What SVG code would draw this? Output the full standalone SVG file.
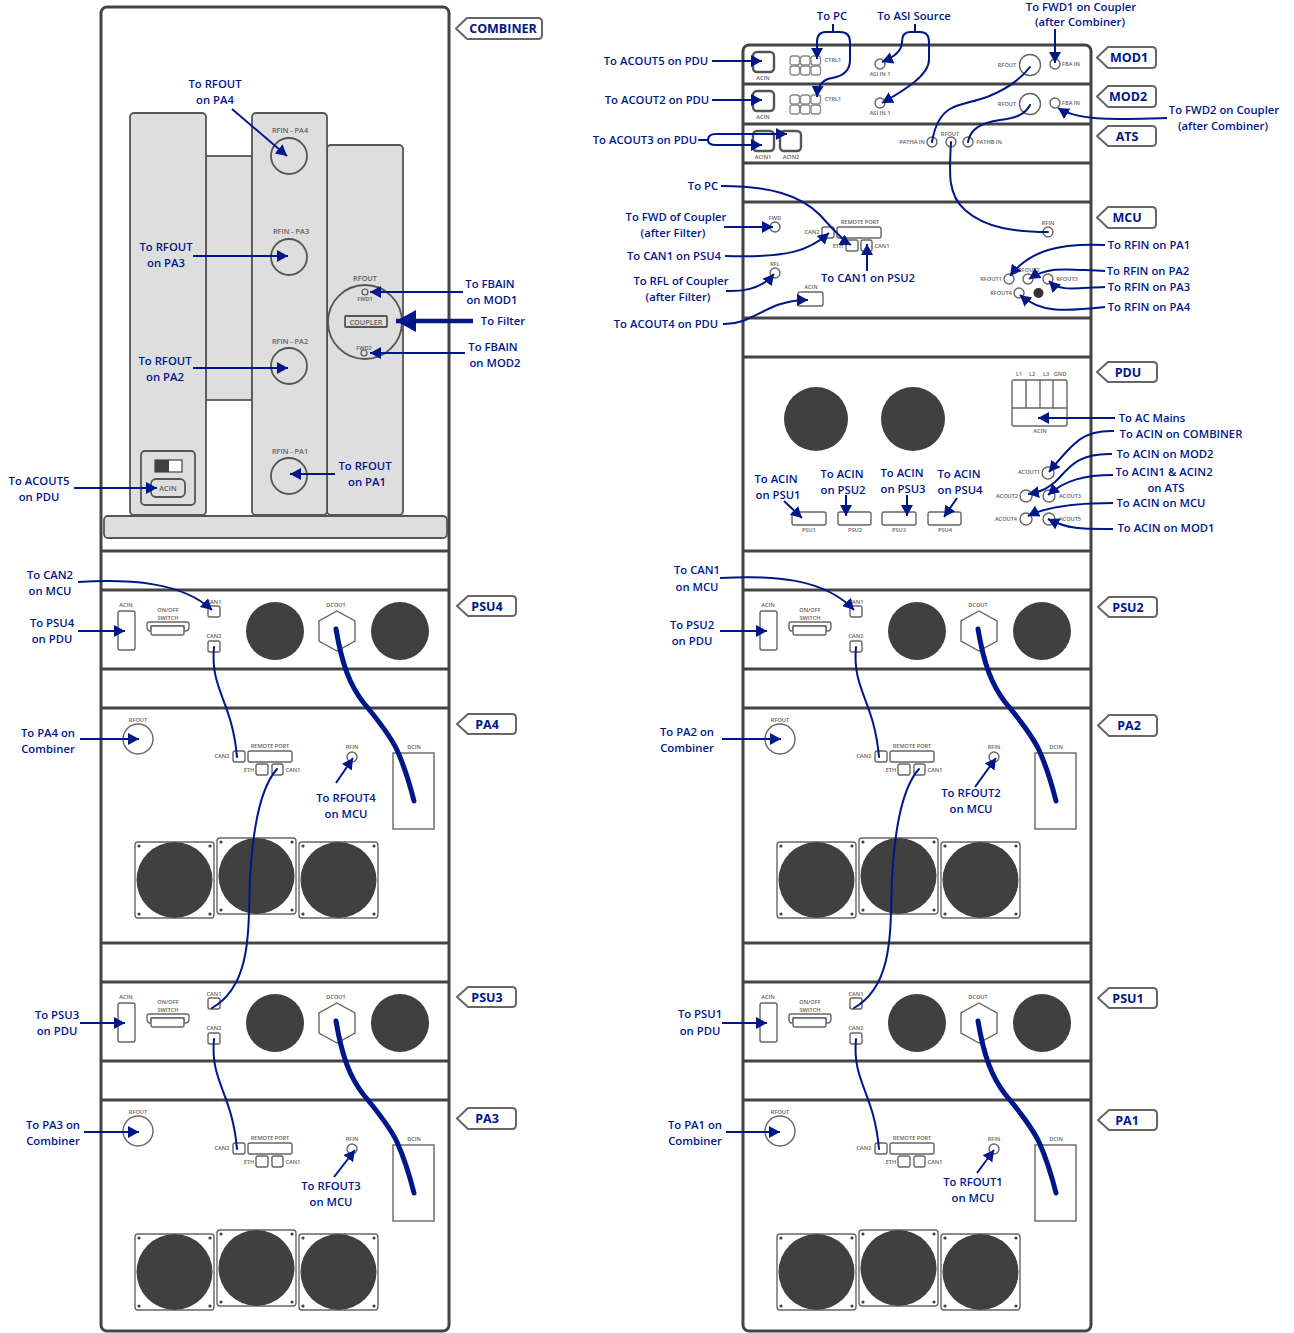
<svg xmlns="http://www.w3.org/2000/svg" xmlns:xlink="http://www.w3.org/1999/xlink" width="1294" height="1333" viewBox="0 0 1294 1333">
<style>
text{font-family:"Open Sans","Liberation Sans",sans-serif}
.l{font-size:11.300px;font-weight:600;fill:#00178a;text-anchor:middle}
.tag{font-size:12.500px;font-weight:700;fill:#00178a;text-anchor:middle}
.s{font-size:5.600px;font-weight:600;fill:#606060;text-anchor:middle}
.m{font-size:7.300px;font-weight:600;fill:#606060;text-anchor:middle}
.rack{fill:#fff;stroke:#444;stroke-width:3}
.rl{stroke:#444;stroke-width:3;fill:none}
.p{fill:#dedede;stroke:#555;stroke-width:1.800}
.o{fill:#fff;stroke:#666;stroke-width:1.400}
.ot{fill:none;stroke:#555;stroke-width:1.800}
.thick{fill:none;stroke:#555;stroke-width:2.400}
.grid{fill:#fff;stroke:#888;stroke-width:1.300}
.hole{fill:#404040}
.tg{fill:#fff;stroke:#666;stroke-width:2;stroke-linejoin:round}
.c{fill:none;stroke:#00178a;stroke-width:2;stroke-linecap:round}
.ca{fill:none;stroke:#00178a;stroke-width:2;stroke-linecap:butt;marker-end:url(#a)}
.dc{fill:none;stroke:#00178a;stroke-width:5;stroke-linecap:round}
</style>
<defs>
<marker id="a" markerUnits="userSpaceOnUse" markerWidth="13" markerHeight="13" refX="11" refY="6" orient="auto"><path d="M0 0L11 6L0 12Z" fill="#00178a"/></marker>
<marker id="b" markerUnits="userSpaceOnUse" markerWidth="22" markerHeight="24" refX="20" refY="11" orient="auto"><path d="M0 0L20 11L0 22Z" fill="#00178a"/></marker>
<g id="fan">
<rect class="o" x="0" y="0" width="79" height="76" rx="3"/>
<circle class="hole" cx="39.500" cy="38" r="38"/>
<circle class="hole" cx="4" cy="4" r="1.600"/><circle class="hole" cx="75" cy="4" r="1.600"/><circle class="hole" cx="4" cy="72" r="1.600"/><circle class="hole" cx="75" cy="72" r="1.600"/>
</g>
<g id="ctrl">
<rect class="grid" x="0" y="0" width="9.500" height="9" rx="2.500"/><rect class="grid" x="10.500" y="0" width="9.500" height="9" rx="2.500"/><rect class="grid" x="21" y="0" width="9.500" height="9" rx="2.500"/>
<rect class="grid" x="0" y="10" width="9.500" height="9" rx="2.500"/><rect class="grid" x="10.500" y="10" width="9.500" height="9" rx="2.500"/><rect class="grid" x="21" y="10" width="9.500" height="9" rx="2.500"/>
</g>
</defs>
<rect width="1294" height="1333" fill="#fff"/>

<g id="rack-left">
<rect class="rack" x="101" y="7" width="348" height="1324" rx="6"/>
<path class="rl" d="M101 551H449M101 590H449M101 669H449M101 708H449M101 943H449M101 982H449M101 1061H449M101 1100H449"/>
</g>
<g id="rack-right">
<rect class="rack" x="743" y="45" width="348" height="1286" rx="6"/>
<path class="rl" d="M743 84H1091M743 124H1091M743 163H1091M743 202H1091M743 318H1091M743 357H1091M743 551H1091M743 590H1091M743 669H1091M743 708H1091M743 943H1091M743 982H1091M743 1061H1091M743 1100H1091"/>
</g>

<g id="combiner">
<rect class="p" x="206" y="156" width="46" height="244"/>
<rect class="p" x="130" y="113" width="76" height="402" rx="4"/>
<rect class="p" x="327" y="145" width="76" height="370" rx="4"/>
<rect class="p" x="252" y="113" width="75" height="402" rx="4"/>
<rect class="p" x="104" y="516" width="343" height="22" rx="4"/>
<circle class="ot" cx="289" cy="156" r="18"/><text class="m" x="290" y="132.500">RFIN - PA4</text>
<circle class="ot" cx="289" cy="257" r="18"/><text class="m" x="291" y="233.500">RFIN - PA3</text>
<circle class="ot" cx="289" cy="366" r="18"/><text class="m" x="290" y="343.500">RFIN - PA2</text>
<circle class="ot" cx="289" cy="476" r="18"/><text class="m" x="290" y="453.500">RFIN - PA1</text>
<circle class="ot" cx="365" cy="322" r="37"/>
<text class="m" x="365" y="280.500">RFOUT</text>
<circle class="ot" cx="365" cy="292" r="3" style="stroke-width:1.200"/><text class="s" x="365" y="301">FWD1</text>
<circle class="ot" cx="364" cy="353" r="3" style="stroke-width:1.200"/><text class="s" x="364" y="350">FWD2</text>
<rect class="ot" x="345" y="316" width="42" height="11" rx="1"/><text class="m" x="366" y="324.500">COUPLER</text>
<rect class="ot" x="141" y="451" width="54" height="54" rx="4"/>
<rect fill="#fff" stroke="#444" stroke-width="1.200" x="155" y="460" width="27" height="12"/><rect x="155" y="460" width="14" height="12" fill="#404040"/>
<rect class="ot" x="151" y="479" width="34" height="18" rx="5"/><text class="m" x="168" y="490.500">ACIN</text>
</g>

<g id="psu4"><rect class="o" x="118" y="611" width="17" height="39" rx="2"/><text class="s" x="126" y="607">ACIN</text><text class="s" x="168" y="612">ON/OFF</text><text class="s" x="168" y="620">SWITCH</text><path class="o" d="M147 624a2 2 0 0 1 2-2H187a2 2 0 0 1 2 2V627Q189 631 185 631H184V626H151V631H150Q147 631 147 627Z"/><rect class="o" x="151" y="626" width="33" height="9" rx="2"/><rect class="o" x="208" y="606" width="12" height="11" rx="2"/><text class="s" x="214" y="604">CAN1</text><rect class="o" x="208" y="641" width="12" height="11" rx="2"/><text class="s" x="214" y="638">CAN2</text><circle class="hole" cx="275" cy="631" r="29"/><circle class="hole" cx="400" cy="631" r="29"/><path class="o" d="M337 611L355 621V641L337 651L319 641V621Z"/><text class="s" x="336" y="607">DCOUT</text></g>

<g id="pa4"><circle class="o" cx="138" cy="739" r="15"/><text class="s" x="138" y="722">RFOUT</text><text class="s" x="222" y="758">CAN2</text><rect class="o" x="233" y="751" width="12" height="11" rx="2"/><rect class="o" x="248" y="751" width="44" height="11" rx="2"/><text class="s" x="270" y="748">REMOTE PORT</text><rect class="o" x="256" y="764" width="12" height="11" rx="2"/><text class="s" x="249" y="771.500">ETH</text><rect class="o" x="272" y="764" width="11" height="11" rx="2"/><text class="s" x="293" y="771.500">CAN1</text><circle class="o" cx="352" cy="757" r="5"/><text class="s" x="352" y="749">RFIN</text><rect class="o" x="393" y="753" width="41" height="76"/><text class="s" x="414" y="749">DCIN</text><use xlink:href="#fan" href="#fan" x="135" y="842"/><use xlink:href="#fan" href="#fan" x="217" y="838"/><use xlink:href="#fan" href="#fan" x="299" y="842"/></g>

<g id="psu3" transform="translate(0,392)"><rect class="o" x="118" y="611" width="17" height="39" rx="2"/><text class="s" x="126" y="607">ACIN</text><text class="s" x="168" y="612">ON/OFF</text><text class="s" x="168" y="620">SWITCH</text><path class="o" d="M147 624a2 2 0 0 1 2-2H187a2 2 0 0 1 2 2V627Q189 631 185 631H184V626H151V631H150Q147 631 147 627Z"/><rect class="o" x="151" y="626" width="33" height="9" rx="2"/><rect class="o" x="208" y="606" width="12" height="11" rx="2"/><text class="s" x="214" y="604">CAN1</text><rect class="o" x="208" y="641" width="12" height="11" rx="2"/><text class="s" x="214" y="638">CAN2</text><circle class="hole" cx="275" cy="631" r="29"/><circle class="hole" cx="400" cy="631" r="29"/><path class="o" d="M337 611L355 621V641L337 651L319 641V621Z"/><text class="s" x="336" y="607">DCOUT</text></g>

<g id="pa3" transform="translate(0,392)"><circle class="o" cx="138" cy="739" r="15"/><text class="s" x="138" y="722">RFOUT</text><text class="s" x="222" y="758">CAN2</text><rect class="o" x="233" y="751" width="12" height="11" rx="2"/><rect class="o" x="248" y="751" width="44" height="11" rx="2"/><text class="s" x="270" y="748">REMOTE PORT</text><rect class="o" x="256" y="764" width="12" height="11" rx="2"/><text class="s" x="249" y="771.500">ETH</text><rect class="o" x="272" y="764" width="11" height="11" rx="2"/><text class="s" x="293" y="771.500">CAN1</text><circle class="o" cx="352" cy="757" r="5"/><text class="s" x="352" y="749">RFIN</text><rect class="o" x="393" y="753" width="41" height="76"/><text class="s" x="414" y="749">DCIN</text><use xlink:href="#fan" href="#fan" x="135" y="842"/><use xlink:href="#fan" href="#fan" x="217" y="838"/><use xlink:href="#fan" href="#fan" x="299" y="842"/></g>

<g id="psu2" transform="translate(642,0)"><rect class="o" x="118" y="611" width="17" height="39" rx="2"/><text class="s" x="126" y="607">ACIN</text><text class="s" x="168" y="612">ON/OFF</text><text class="s" x="168" y="620">SWITCH</text><path class="o" d="M147 624a2 2 0 0 1 2-2H187a2 2 0 0 1 2 2V627Q189 631 185 631H184V626H151V631H150Q147 631 147 627Z"/><rect class="o" x="151" y="626" width="33" height="9" rx="2"/><rect class="o" x="208" y="606" width="12" height="11" rx="2"/><text class="s" x="214" y="604">CAN1</text><rect class="o" x="208" y="641" width="12" height="11" rx="2"/><text class="s" x="214" y="638">CAN2</text><circle class="hole" cx="275" cy="631" r="29"/><circle class="hole" cx="400" cy="631" r="29"/><path class="o" d="M337 611L355 621V641L337 651L319 641V621Z"/><text class="s" x="336" y="607">DCOUT</text></g>

<g id="pa2" transform="translate(642,0)"><circle class="o" cx="138" cy="739" r="15"/><text class="s" x="138" y="722">RFOUT</text><text class="s" x="222" y="758">CAN2</text><rect class="o" x="233" y="751" width="12" height="11" rx="2"/><rect class="o" x="248" y="751" width="44" height="11" rx="2"/><text class="s" x="270" y="748">REMOTE PORT</text><rect class="o" x="256" y="764" width="12" height="11" rx="2"/><text class="s" x="249" y="771.500">ETH</text><rect class="o" x="272" y="764" width="11" height="11" rx="2"/><text class="s" x="293" y="771.500">CAN1</text><circle class="o" cx="352" cy="757" r="5"/><text class="s" x="352" y="749">RFIN</text><rect class="o" x="393" y="753" width="41" height="76"/><text class="s" x="414" y="749">DCIN</text><use xlink:href="#fan" href="#fan" x="135" y="842"/><use xlink:href="#fan" href="#fan" x="217" y="838"/><use xlink:href="#fan" href="#fan" x="299" y="842"/></g>

<g id="psu1" transform="translate(642,392)"><rect class="o" x="118" y="611" width="17" height="39" rx="2"/><text class="s" x="126" y="607">ACIN</text><text class="s" x="168" y="612">ON/OFF</text><text class="s" x="168" y="620">SWITCH</text><path class="o" d="M147 624a2 2 0 0 1 2-2H187a2 2 0 0 1 2 2V627Q189 631 185 631H184V626H151V631H150Q147 631 147 627Z"/><rect class="o" x="151" y="626" width="33" height="9" rx="2"/><rect class="o" x="208" y="606" width="12" height="11" rx="2"/><text class="s" x="214" y="604">CAN1</text><rect class="o" x="208" y="641" width="12" height="11" rx="2"/><text class="s" x="214" y="638">CAN2</text><circle class="hole" cx="275" cy="631" r="29"/><circle class="hole" cx="400" cy="631" r="29"/><path class="o" d="M337 611L355 621V641L337 651L319 641V621Z"/><text class="s" x="336" y="607">DCOUT</text></g>

<g id="pa1" transform="translate(642,392)"><circle class="o" cx="138" cy="739" r="15"/><text class="s" x="138" y="722">RFOUT</text><text class="s" x="222" y="758">CAN2</text><rect class="o" x="233" y="751" width="12" height="11" rx="2"/><rect class="o" x="248" y="751" width="44" height="11" rx="2"/><text class="s" x="270" y="748">REMOTE PORT</text><rect class="o" x="256" y="764" width="12" height="11" rx="2"/><text class="s" x="249" y="771.500">ETH</text><rect class="o" x="272" y="764" width="11" height="11" rx="2"/><text class="s" x="293" y="771.500">CAN1</text><circle class="o" cx="352" cy="757" r="5"/><text class="s" x="352" y="749">RFIN</text><rect class="o" x="393" y="753" width="41" height="76"/><text class="s" x="414" y="749">DCIN</text><use xlink:href="#fan" href="#fan" x="135" y="842"/><use xlink:href="#fan" href="#fan" x="217" y="838"/><use xlink:href="#fan" href="#fan" x="299" y="842"/></g>

<g id="mod1">
<rect class="thick" x="753" y="52" width="21" height="20" rx="4"/><text class="s" x="763" y="79.500">ACIN</text>
<use xlink:href="#ctrl" href="#ctrl" x="790" y="56"/>
<text class="s" x="833" y="62">CTRL1</text>
<circle class="o" cx="880" cy="64" r="5"/><text class="s" x="880" y="76">ASI IN 1</text>
<circle class="o" cx="1030" cy="65" r="10.500"/><text class="s" x="1007" y="67">RFOUT</text>
<circle class="o" cx="1055" cy="64" r="5"/><text class="s" x="1071" y="66">FBA IN</text>
</g>
<g id="mod2">
<rect class="thick" x="753" y="91" width="21" height="20" rx="4"/><text class="s" x="763" y="118.500">ACIN</text>
<use xlink:href="#ctrl" href="#ctrl" x="790" y="95"/>
<text class="s" x="833" y="101">CTRL1</text>
<circle class="o" cx="880" cy="103" r="5"/><text class="s" x="880" y="115">ASI IN 1</text>
<circle class="o" cx="1030" cy="104" r="10.500"/><text class="s" x="1007" y="106">RFOUT</text>
<circle class="o" cx="1055" cy="103" r="5"/><text class="s" x="1071" y="105">FBA IN</text>
</g>
<g id="ats">
<rect class="thick" x="753" y="131" width="21" height="20" rx="4"/><text class="s" x="763" y="158.500">ACIN1</text>
<rect class="thick" x="780" y="131" width="21" height="20" rx="4"/><text class="s" x="791" y="158.500">ACIN2</text>
<circle class="o" cx="932" cy="142" r="5"/><text class="s" x="912" y="144">PATHA IN</text>
<circle class="o" cx="951" cy="142" r="5"/><text class="s" x="950" y="136">RFOUT</text>
<circle class="o" cx="968" cy="142" r="5"/><text class="s" x="989" y="144">PATHB IN</text>
</g>
<g id="mcu">
<circle class="o" cx="775" cy="227" r="5"/><text class="s" x="775" y="220">FWD</text>
<circle class="o" cx="775" cy="273" r="5"/><text class="s" x="775" y="266">RFL</text>
<text class="s" x="812" y="234">CAN2</text><rect class="o" x="822" y="227" width="12" height="11" rx="2"/>
<rect class="o" x="837" y="227" width="44" height="11" rx="2"/><text class="s" x="860" y="224">REMOTE PORT</text>
<text class="s" x="838" y="247.500">ETH</text><rect class="o" x="846" y="240" width="12" height="11" rx="2"/>
<rect class="o" x="861" y="240" width="11" height="11" rx="2"/><text class="s" x="882" y="247.500">CAN1</text>
<rect class="o" x="798" y="292" width="25" height="14" rx="2"/><text class="s" x="811" y="289">ACIN</text>
<circle class="o" cx="1048" cy="232" r="5"/><text class="s" x="1048" y="225">RFIN</text>
<circle class="o" cx="1009" cy="279" r="5"/><text class="s" x="991" y="281">RFOUT1</text>
<circle class="o" cx="1028" cy="279" r="5"/><text class="s" x="1029" y="272">RFOUT2</text>
<circle class="o" cx="1048" cy="279" r="5"/><text class="s" x="1067" y="281">RFOUT3</text>
<circle class="o" cx="1019" cy="293" r="5"/><text class="s" x="1001" y="295">RFOUT4</text>
<circle cx="1038.500" cy="293" r="5" fill="#333"/>
</g>
<g id="pdu">
<circle class="hole" cx="816" cy="419" r="32"/><circle class="hole" cx="913" cy="419" r="32"/>
<rect class="o" x="1012" y="380" width="55" height="46" rx="2"/>
<path class="o" d="M1012 408H1067M1026 380V408M1040 380V408M1053 380V408"/>
<text class="s" x="1019" y="376">L1</text><text class="s" x="1032" y="376">L2</text><text class="s" x="1046" y="376">L3</text><text class="s" x="1060" y="376">GND</text>
<text class="s" x="1040" y="433">ACIN</text>
<rect class="o" x="792" y="512" width="34" height="13" rx="2"/><text class="s" x="809" y="532">PSU1</text>
<rect class="o" x="838" y="512" width="33" height="13" rx="2"/><text class="s" x="855" y="532">PSU2</text>
<rect class="o" x="882" y="512" width="34" height="13" rx="2"/><text class="s" x="899" y="532">PSU3</text>
<rect class="o" x="928" y="512" width="33" height="13" rx="2"/><text class="s" x="945" y="532">PSU4</text>
<circle class="o" cx="1048" cy="473" r="6"/><text class="s" x="1029" y="474">ACOUT1</text>
<circle class="o" cx="1026" cy="496" r="6"/><text class="s" x="1007" y="498">ACOUT2</text>
<circle class="o" cx="1049" cy="496" r="6"/><text class="s" x="1070" y="498">ACOUT3</text>
<circle class="o" cx="1026" cy="519" r="6"/><text class="s" x="1006" y="521">ACOUT4</text>
<circle class="o" cx="1049" cy="519" r="6"/><text class="s" x="1070" y="521">ACOUT5</text>
</g>

<g id="tags">
<path class="tg" d="M456 28.500L467 18H538Q542 18 542 22V35Q542 39 538 39H467Z"/><text class="tag" x="503" y="33">COMBINER</text>
<path class="tg" d="M1097 57.500L1108 47H1152Q1156 47 1156 51V64Q1156 68 1152 68H1108Z"/><text class="tag" x="1129" y="62">MOD1</text>
<path class="tg" d="M1097 96.500L1108 86H1152Q1156 86 1156 90V103Q1156 107 1152 107H1108Z"/><text class="tag" x="1128" y="101">MOD2</text>
<path class="tg" d="M1097 136L1108 126H1152Q1156 126 1156 130V142Q1156 146 1152 146H1108Z"/><text class="tag" x="1127" y="140.500">ATS</text>
<path class="tg" d="M1097 217.500L1108 207H1152Q1156 207 1156 211V224Q1156 228 1152 228H1108Z"/><text class="tag" x="1127" y="222">MCU</text>
<path class="tg" d="M1097 372L1108 362H1153Q1157 362 1157 366V378Q1157 382 1153 382H1108Z"/><text class="tag" x="1128" y="376.500">PDU</text>
<path class="tg" d="M457 606L468 596H512Q516 596 516 600V612Q516 616 512 616H468Z"/><text class="tag" x="487" y="610.500">PSU4</text>
<path class="tg" d="M457 724L468 714H512Q516 714 516 718V730Q516 734 512 734H468Z"/><text class="tag" x="487" y="728.500">PA4</text>
<path class="tg" d="M457 997L468 987H512Q516 987 516 991V1003Q516 1007 512 1007H468Z"/><text class="tag" x="487" y="1001.500">PSU3</text>
<path class="tg" d="M457 1118.500L468 1108H512Q516 1108 516 1112V1125Q516 1129 512 1129H468Z"/><text class="tag" x="487" y="1123">PA3</text>
<path class="tg" d="M1098 607L1109 597H1153Q1157 597 1157 601V613Q1157 617 1153 617H1109Z"/><text class="tag" x="1128" y="611.500">PSU2</text>
<path class="tg" d="M1098 725.500L1109 715H1153Q1157 715 1157 719V732Q1157 736 1153 736H1109Z"/><text class="tag" x="1129" y="730">PA2</text>
<path class="tg" d="M1098 998L1109 988H1153Q1157 988 1157 992V1004Q1157 1008 1153 1008H1109Z"/><text class="tag" x="1128" y="1002.500">PSU1</text>
<path class="tg" d="M1098 1120L1109 1110H1153Q1157 1110 1157 1114V1126Q1157 1130 1153 1130H1109Z"/><text class="tag" x="1127" y="1124.500">PA1</text>
</g>

<g id="connectors">
<path class="ca" d="M232 109L287 156"/>
<path class="ca" d="M193 256H288"/>
<path class="ca" d="M193 368H288"/>
<path class="ca" d="M335 474H290"/>
<path class="ca" d="M463 292H370"/>
<path class="ca" d="M465 353H370"/>
<path d="M473 321H396" fill="none" stroke="#00178a" stroke-width="4.500" marker-end="url(#b)"/>
<path class="ca" d="M74 488H157"/>
<path class="ca" d="M78 582C130 579 182 582 212 610"/>
<path class="ca" d="M78 631H125"/>
<path class="ca" d="M80 739H139"/>
<path class="ca" d="M336 783L353 758"/>
<path class="c" d="M214 647C210 690 232 700 237 757"/>
<path class="dc" d="M336 629C342 665 350 685 363 702C378 720 390 735 397 750C405 768 410 785 414 801"/>
<path class="c" d="M277 769C258 790 252 840 250 880C248 930 252 985 212 1008"/>
<path class="ca" d="M80 1023H125"/>
<path class="ca" d="M84 1132H139"/>
<path class="ca" d="M334 1177L355 1150"/>
<path class="c" d="M214 1039C210 1082 232 1092 237 1149"/>
<path class="dc" d="M336 1021C342 1057 350 1077 363 1094C378 1112 390 1127 397 1142C405 1160 410 1177 414 1193"/>
<path class="ca" d="M720 578C772 575 824 578 854 610"/>
<path class="ca" d="M720 631H767"/>
<path class="ca" d="M722 739H781"/>
<path class="ca" d="M975 787L996 758"/>
<path class="c" d="M856 647C852 690 874 700 879 757"/>
<path class="dc" d="M978 629C984 665 992 685 1005 702C1020 720 1032 735 1039 750C1047 768 1052 785 1056 801"/>
<path class="c" d="M919 769C900 790 894 840 892 880C890 930 894 985 854 1008"/>
<path class="ca" d="M722 1023H767"/>
<path class="ca" d="M726 1132H780"/>
<path class="ca" d="M977 1173L994 1150"/>
<path class="c" d="M856 1039C852 1082 874 1092 879 1149"/>
<path class="dc" d="M978 1021C984 1057 992 1077 1005 1094C1020 1112 1032 1127 1039 1142C1047 1160 1052 1177 1056 1193"/>
<path class="ca" d="M833 24V32H826Q817 32 817 42V59"/>
<path class="ca" d="M833 32H840Q850 32 850 42V60Q850 75 832 78Q818 80 817 97"/>
<path class="ca" d="M915 24V32H910Q902 32 902 42C902 52 892 58 882 62"/>
<path class="ca" d="M915 32H920Q929 32 929 42V60C929 75 905 90 882 103"/>
<path class="ca" d="M1055 29V63"/>
<path class="ca" d="M712 61H762"/>
<path class="ca" d="M712 100H762"/>
<path class="c" d="M699 140H708"/>
<path class="ca" d="M708 140Q708 134 716 134H787"/>
<path class="ca" d="M708 140Q708 145 716 145H762"/>
<path class="c" d="M1030 67C1020 80 1005 90 987 97C970 103 960 103 950 109C938 116 934 130 932 142"/>
<path class="c" d="M1030 105C1025 115 1015 118 1000 120C985 122 970 128 968 142"/>
<path class="ca" d="M1167 118C1120 119 1080 122 1058 108"/>
<path class="c" d="M951 142C949 175 948 195 965 210C985 228 1015 232 1048 232"/>
<path class="ca" d="M721 186C770 186 800 195 820 215C832 228 842 240 851 245"/>
<path class="ca" d="M724 227H773"/>
<path class="ca" d="M725 256C790 258 810 250 829 233"/>
<path class="ca" d="M867 271V244"/>
<path class="ca" d="M726 291C750 292 765 285 774 274"/>
<path class="ca" d="M723 324C755 325 765 300 808 300"/>
<path class="ca" d="M1105 245C1060 243 1030 250 1010 276"/>
<path class="ca" d="M1105 271C1070 270 1050 265 1029 279"/>
<path class="ca" d="M1105 287C1075 288 1060 292 1049 281"/>
<path class="ca" d="M1105 307C1060 312 1040 312 1020 295"/>
<path class="ca" d="M1115 418H1038"/>
<path class="ca" d="M1114 431C1085 430 1075 440 1049 472"/>
<path class="ca" d="M1112 454C1075 453 1068 470 1055 482C1045 490 1040 492 1028 494"/>
<path class="ca" d="M1113 475C1085 475 1065 480 1048 495"/>
<path class="ca" d="M1113 503C1085 503 1050 505 1028 516"/>
<path class="ca" d="M1113 529C1085 529 1070 530 1048 519"/>
<path class="ca" d="M784 501L802 518"/>
<path class="ca" d="M846 495V516"/>
<path class="ca" d="M907 495V516"/>
<path class="ca" d="M957 498L944 517"/>
</g>

<g id="labels">
<text class="l" x="215" y="88">To RFOUT</text><text class="l" x="215" y="104">on PA4</text>
<text class="l" x="166" y="251">To RFOUT</text><text class="l" x="166" y="267">on PA3</text>
<text class="l" x="165" y="365">To RFOUT</text><text class="l" x="165" y="381">on PA2</text>
<text class="l" x="365" y="470">To RFOUT</text><text class="l" x="367" y="486">on PA1</text>
<text class="l" x="490" y="288">To FBAIN</text><text class="l" x="492" y="304">on MOD1</text>
<text class="l" x="503" y="325">To Filter</text>
<text class="l" x="493" y="351">To FBAIN</text><text class="l" x="495" y="367">on MOD2</text>
<text class="l" x="39" y="485">To ACOUT5</text><text class="l" x="39" y="501">on PDU</text>
<text class="l" x="50" y="579">To CAN2</text><text class="l" x="50" y="595">on MCU</text>
<text class="l" x="52" y="627">To PSU4</text><text class="l" x="52" y="643">on PDU</text>
<text class="l" x="48" y="737">To PA4 on</text><text class="l" x="48" y="753">Combiner</text>
<text class="l" x="346" y="802">To RFOUT4</text><text class="l" x="346" y="818">on MCU</text>
<text class="l" x="57" y="1019">To PSU3</text><text class="l" x="57" y="1035">on PDU</text>
<text class="l" x="53" y="1129">To PA3 on</text><text class="l" x="53" y="1145">Combiner</text>
<text class="l" x="331" y="1190">To RFOUT3</text><text class="l" x="331" y="1206">on MCU</text>
<text class="l" x="697" y="574">To CAN1</text><text class="l" x="697" y="591">on MCU</text>
<text class="l" x="692" y="629">To PSU2</text><text class="l" x="692" y="645">on PDU</text>
<text class="l" x="687" y="736">To PA2 on</text><text class="l" x="687" y="752">Combiner</text>
<text class="l" x="971" y="797">To RFOUT2</text><text class="l" x="971" y="813">on MCU</text>
<text class="l" x="700" y="1018">To PSU1</text><text class="l" x="700" y="1035">on PDU</text>
<text class="l" x="695" y="1129">To PA1 on</text><text class="l" x="695" y="1145">Combiner</text>
<text class="l" x="973" y="1186">To RFOUT1</text><text class="l" x="973" y="1202">on MCU</text>
<text class="l" x="832" y="20">To PC</text>
<text class="l" x="914" y="20">To ASI Source</text>
<text class="l" x="1081" y="11">To FWD1 on Coupler</text><text class="l" x="1080" y="26">(after Combiner)</text>
<text class="l" x="656" y="65">To ACOUT5 on PDU</text>
<text class="l" x="657" y="104">To ACOUT2 on PDU</text>
<text class="l" x="645" y="144">To ACOUT3 on PDU</text>
<text class="l" x="1224" y="114">To FWD2 on Coupler</text><text class="l" x="1223" y="130">(after Combiner)</text>
<text class="l" x="703" y="190">To PC</text>
<text class="l" x="676" y="221">To FWD of Coupler</text><text class="l" x="673" y="237">(after Filter)</text>
<text class="l" x="674" y="260">To CAN1 on PSU4</text>
<text class="l" x="868" y="282">To CAN1 on PSU2</text>
<text class="l" x="681" y="285">To RFL of Coupler</text><text class="l" x="678" y="301">(after Filter)</text>
<text class="l" x="666" y="328">To ACOUT4 on PDU</text>
<text class="l" x="1149" y="249">To RFIN on PA1</text>
<text class="l" x="1148" y="275">To RFIN on PA2</text>
<text class="l" x="1149" y="291">To RFIN on PA3</text>
<text class="l" x="1149" y="311">To RFIN on PA4</text>
<text class="l" x="1152" y="422">To AC Mains</text>
<text class="l" x="1181" y="438">To ACIN on COMBINER</text>
<text class="l" x="1165" y="458">To ACIN on MOD2</text>
<text class="l" x="1164" y="476">To ACIN1 &amp; ACIN2</text><text class="l" x="1166" y="492">on ATS</text>
<text class="l" x="1161" y="507">To ACIN on MCU</text>
<text class="l" x="1166" y="532">To ACIN on MOD1</text>
<text class="l" x="776" y="483">To ACIN</text><text class="l" x="778" y="499">on PSU1</text>
<text class="l" x="842" y="478">To ACIN</text><text class="l" x="843" y="494">on PSU2</text>
<text class="l" x="902" y="477">To ACIN</text><text class="l" x="903" y="493">on PSU3</text>
<text class="l" x="959" y="478">To ACIN</text><text class="l" x="960" y="494">on PSU4</text>
</g>
</svg>
